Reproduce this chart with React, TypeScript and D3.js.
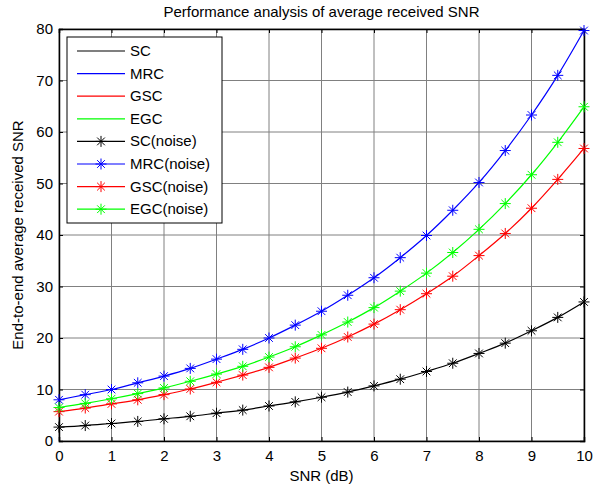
import React, { useEffect, useRef } from "react";
import * as d3 from "d3";

const snr = [0, 0.5, 1, 1.5, 2, 2.5, 3, 3.5, 4, 4.5, 5, 5.5, 6, 6.5, 7, 7.5, 8, 8.5, 9, 9.5, 10];
const sc = [2.7, 3.0, 3.4, 3.8, 4.3, 4.8, 5.4, 6.0, 6.8, 7.6, 8.5, 9.5, 10.7, 12.0, 13.5, 15.1, 17.0, 19.0, 21.4, 24.0, 27.0];
const mrc = [8.0, 9.0, 10.0, 11.3, 12.6, 14.1, 15.9, 17.8, 20.0, 22.5, 25.2, 28.3, 31.7, 35.6, 39.9, 44.8, 50.2, 56.4, 63.3, 71.0, 79.7];
const gsc = [5.7, 6.4, 7.2, 8.0, 9.0, 10.1, 11.4, 12.8, 14.3, 16.1, 18.0, 20.2, 22.7, 25.5, 28.6, 32.0, 36.0, 40.3, 45.2, 50.8, 56.8];
const egc = [6.5, 7.3, 8.2, 9.2, 10.3, 11.6, 13.0, 14.5, 16.3, 18.3, 20.6, 23.1, 25.9, 29.1, 32.6, 36.6, 41.1, 46.1, 51.7, 58.0, 64.9];

const xTicks = [0, 1, 2, 3, 4, 5, 6, 7, 8, 9, 10];
const yTicks = [0, 10, 20, 30, 40, 50, 60, 70, 80];

const seriesNames = ["SC", "MRC", "GSC", "EGC"];
const seriesData = [sc, mrc, gsc, egc];
const seriesColors = ["#000000", "#0000ff", "#ff0000", "#00ff00"];

const App = () => {
  const ref = useRef<SVGSVGElement>(null);

  useEffect(() => {
    const svg = d3.select(ref.current);
    svg.selectAll("*").remove();

    const margin = { top: 29, right: 9, bottom: 47, left: 59 };
    const width = 593 - margin.left - margin.right;
    const height = 488 - margin.top - margin.bottom;
    const font = "'Liberation Sans', Arial, sans-serif";

    svg.append("rect").attr("width", 593).attr("height", 488).attr("fill", "#fff");

    const g = svg
      .append("g")
      .attr("transform", "translate(" + margin.left + "," + margin.top + ")");

    const x = d3.scaleLinear().domain([0, 10]).range([0, width]);
    const y = d3.scaleLinear().domain([0, 80]).range([height, 0]);

    // grid
    g.selectAll(".gx")
      .data(xTicks)
      .enter()
      .append("line")
      .attr("x1", (d) => x(d))
      .attr("x2", (d) => x(d))
      .attr("y1", 0)
      .attr("y2", height)
      .attr("stroke", "#808080")
      .attr("stroke-width", 1);
    g.selectAll(".gy")
      .data(yTicks)
      .enter()
      .append("line")
      .attr("x1", 0)
      .attr("x2", width)
      .attr("y1", (d) => y(d))
      .attr("y2", (d) => y(d))
      .attr("stroke", "#808080")
      .attr("stroke-width", 1);

    // axes
    const xAxis = g
      .append("g")
      .attr("transform", "translate(0," + height + ")")
      .call(d3.axisBottom(x).tickValues(xTicks).tickSize(-4).tickPadding(9));
    const yAxis = g
      .append("g")
      .call(d3.axisLeft(y).tickValues(yTicks).tickSize(-4).tickPadding(6));
    g.append("g")
      .attr("transform", "translate(" + width + ",0)")
      .call(d3.axisRight(y).tickValues(yTicks).tickSize(-4).tickFormat(() => ""));
    g.append("g").call(d3.axisTop(x).tickValues(xTicks).tickSize(-4).tickFormat(() => ""));

    [xAxis, yAxis].forEach((a) =>
      a.selectAll("text").attr("font-family", font).attr("font-size", 15).attr("fill", "#000")
    );
    g.selectAll(".domain").attr("stroke", "#000").attr("stroke-width", 1.5);
    g.selectAll(".tick line").attr("stroke", "#000");

    // lines
    const line = d3
      .line<number>()
      .x((d, i) => x(snr[i]))
      .y((d) => y(d))
      .curve(d3.curveMonotoneX);

    const star = (sel: any, cx: number, cy: number, color: string) => {
      const r = 5.5;
      const path =
        `M${cx - r},${cy}L${cx + r},${cy}` +
        `M${cx},${cy - r}L${cx},${cy + r}` +
        `M${cx - r * 0.7},${cy - r * 0.7}L${cx + r * 0.7},${cy + r * 0.7}` +
        `M${cx - r * 0.7},${cy + r * 0.7}L${cx + r * 0.7},${cy - r * 0.7}`;
      sel.append("path").attr("d", path).attr("stroke", color).attr("stroke-width", 1).attr("fill", "none");
    };

    seriesData.forEach((vals, si) => {
      g.append("path")
        .attr("d", line(vals))
        .attr("fill", "none")
        .attr("stroke", seriesColors[si])
        .attr("stroke-width", 1.2);
      vals.forEach((v, i) => star(g, x(snr[i]), y(v), seriesColors[si]));
    });

    // title & labels
    svg
      .append("text")
      .attr("x", margin.left + width / 2)
      .attr("y", 17)
      .attr("text-anchor", "middle")
      .attr("font-family", font)
      .attr("font-size", 15)
      .text("Performance analysis of average received SNR");
    svg
      .append("text")
      .attr("x", margin.left + width / 2)
      .attr("y", 481)
      .attr("text-anchor", "middle")
      .attr("font-family", font)
      .attr("font-size", 15)
      .text("SNR (dB)");
    svg
      .append("text")
      .attr("transform", "translate(23," + (margin.top + height / 2) + ")rotate(-90)")
      .attr("text-anchor", "middle")
      .attr("font-family", font)
      .attr("font-size", 15)
      .text("End-to-end average received SNR");

    // legend
    const legend = svg.append("g").attr("transform", "translate(67,37)");
    legend
      .append("rect")
      .attr("width", 155)
      .attr("height", 186)
      .attr("fill", "#fff")
      .attr("stroke", "#000")
      .attr("stroke-width", 1);
    const labels = seriesNames.concat(seriesNames.map((n) => n + "(noise)"));
    labels.forEach((name, i) => {
      const color = seriesColors[i % 4];
      const ly = 14 + i * 22.6;
      legend
        .append("line")
        .attr("x1", 10)
        .attr("x2", 58)
        .attr("y1", ly)
        .attr("y2", ly)
        .attr("stroke", color)
        .attr("stroke-width", 1.2);
      if (i >= 4) star(legend, 34, ly, color);
      legend
        .append("text")
        .attr("x", 63)
        .attr("y", ly + 5)
        .attr("font-family", font)
        .attr("font-size", 15)
        .text(name);
    });
  }, []);

  return <svg ref={ref} width={593} height={488} style={{ position: "absolute", left: 0, top: 0 }} />;
};

export default App;
